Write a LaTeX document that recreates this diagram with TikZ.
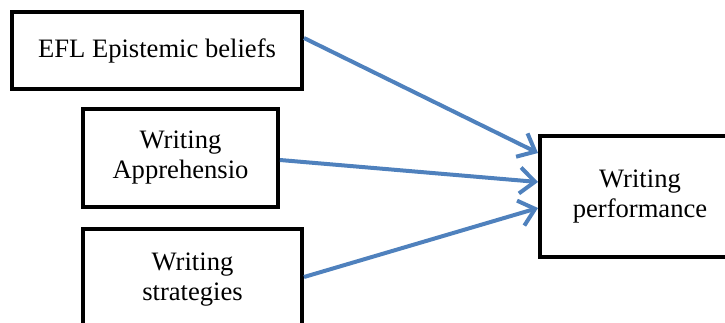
\documentclass[tikz,border=0pt]{standalone}
\usepackage{fontspec}
\setmainfont{Liberation Serif}
\usetikzlibrary{arrows.meta}
\definecolor{arrowblue}{RGB}{79,129,189}
\tikzset{
  boxnode/.style={draw=black, line width=4pt, fill=white, align=center, inner sep=0pt,
    font=\fontsize{26.6}{30}\selectfont},
  link/.style={draw=arrowblue, line width=4pt, -{Straight Barb[length=15pt,width=26pt]}}
}
\begin{document}
\begin{tikzpicture}[x=1pt,y=-1pt]
\path[use as bounding box] (0,0) rectangle (725,322);
\clip (0,0) rectangle (725,322);
\node[boxnode, minimum width=290pt, minimum height=77pt] (b1) at (157,50.5) {EFL Epistemic beliefs};
\node[boxnode, minimum width=195pt, minimum height=98pt] (b2) at (180.5,158) {Writing\\Apprehensio};
\node[boxnode, minimum width=219pt, minimum height=102pt] (b3) at (192.5,280) {Writing\\strategies};
\node[boxnode, minimum width=200pt, minimum height=121pt] (b4) at (640,196.5) {Writing\\performance};
\draw[link] ([yshift=12.5pt]b1.east) -- ([yshift=43.5pt]b4.west);
\draw[link] ([yshift=-2pt]b2.east) -- ([yshift=14.5pt]b4.west);
\draw[link] ([yshift=3pt]b3.east) -- ([yshift=-11.5pt]b4.west);
\end{tikzpicture}
\end{document}
